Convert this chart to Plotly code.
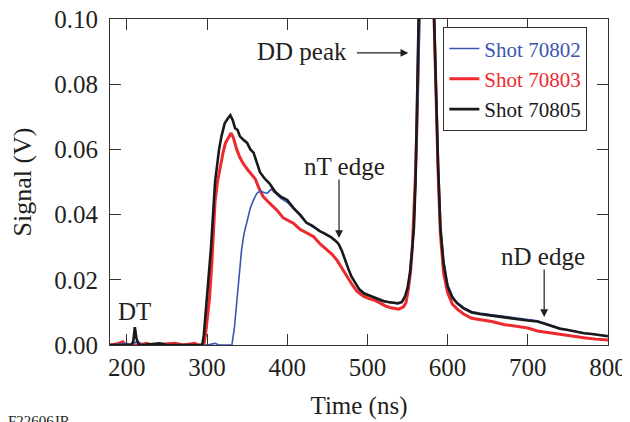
import plotly.graph_objects as go

# ---------------- data ----------------
t_70805 = [179, 195, 205, 208, 210, 212, 215, 220, 240, 250, 280, 294, 296, 300, 305, 310, 315, 318, 322, 326,
           329, 332, 335, 338, 341, 345, 350, 354, 358, 362, 366, 372, 378, 385, 392, 400, 408, 416, 424, 432,
           440, 448, 455, 460, 464, 468, 472, 476, 480, 485, 490, 496, 502, 508, 514, 520, 526, 532, 538, 543,
           547, 550, 553, 556, 558, 560, 562, 564, 566, 569, 573, 577, 581, 583, 585, 588, 591, 595, 600, 606,
           612, 620, 630, 640, 655, 670, 685, 700, 712, 720, 730, 740, 750, 760, 770, 780, 790, 800]
v_70805 = [0, 0, 0, 0.001, 0.0055, 0.002, 0, 0, 0.0005, 0, 0, 0, 0.003, 0.014, 0.030, 0.050, 0.060, 0.064, 0.068, 0.0695,
           0.0705, 0.069, 0.0665, 0.066, 0.064, 0.063, 0.062, 0.060, 0.059, 0.056, 0.053, 0.051, 0.0495, 0.047, 0.0455, 0.0445, 0.042, 0.040, 0.0375, 0.0365,
           0.035, 0.034, 0.033, 0.032, 0.031, 0.029, 0.026, 0.0235, 0.021, 0.019, 0.017, 0.0158, 0.0152, 0.0148, 0.014, 0.0135, 0.0132, 0.013, 0.0128, 0.0132,
           0.015, 0.0175, 0.022, 0.030, 0.036, 0.050, 0.066, 0.085, 0.11, 0.17, 0.22, 0.19, 0.12, 0.10, 0.078, 0.056, 0.036, 0.025, 0.018, 0.0145,
           0.0128, 0.0112, 0.0100, 0.0095, 0.009, 0.0086, 0.0080, 0.0075, 0.0072, 0.0066, 0.0058, 0.0050, 0.0046, 0.0040, 0.0036, 0.0034, 0.0030, 0.0027]

t_70803 = [179, 190, 195, 198, 215, 225, 230, 260, 270, 285, 288, 296, 298, 303, 306, 310, 313, 316, 320, 323,
           327, 330, 333, 337, 341, 345, 350, 355, 360, 365, 370, 378, 387, 395, 402, 408, 416, 424, 433, 441,
           450, 456, 462, 468, 475, 481, 487, 495, 502, 508, 515, 522, 528, 533, 539, 545, 548, 551, 554, 556,
           558, 560, 562, 564, 566, 569, 573, 577, 581, 583, 585, 588, 591, 595, 600, 606, 612, 620, 630, 640,
           655, 670, 685, 700, 712, 720, 730, 740, 754, 770, 785, 800]
v_70803 = [0, 0.0005, 0.001, 0, 0, 0.0005, 0, 0.0005, 0, 0.0005, 0, 0, 0.003, 0.014, 0.025, 0.044, 0.050, 0.054, 0.059, 0.062,
           0.064, 0.065, 0.0635, 0.060, 0.0575, 0.0557, 0.054, 0.0525, 0.051, 0.048, 0.0455, 0.0435, 0.0414, 0.039, 0.038, 0.0373, 0.0355, 0.0343, 0.0332, 0.031,
           0.029, 0.0278, 0.026, 0.0235, 0.021, 0.0185, 0.0164, 0.015, 0.0142, 0.0138, 0.013, 0.012, 0.0115, 0.0112, 0.011, 0.0117, 0.013, 0.017, 0.023, 0.030,
           0.040, 0.053, 0.070, 0.090, 0.12, 0.17, 0.21, 0.18, 0.12, 0.10, 0.076, 0.054, 0.034, 0.022, 0.016, 0.0125, 0.011, 0.0095, 0.0082, 0.0078,
           0.0072, 0.0063, 0.0058, 0.0052, 0.0043, 0.0040, 0.0036, 0.0032, 0.0026, 0.0022, 0.0018, 0.0015]

t_70802 = [179, 200, 205, 212, 216, 220, 245, 250, 300, 310, 315, 331, 334, 337, 340, 343, 346, 350, 354, 358,
           362, 366, 370, 375, 380, 385, 392, 400, 408, 416, 424, 432, 440, 448, 455, 460, 464, 468, 472, 476,
           480, 485, 490, 496, 502, 508, 514, 520, 526, 532, 538, 543, 547, 550, 553, 556, 558, 560, 562, 564,
           566, 569, 573, 577, 581, 583, 585, 588, 591, 595, 600, 606, 612, 620, 630, 640, 655, 670, 685, 700,
           712, 720, 730, 740, 750, 760, 770, 780, 790, 800]
v_70802 = [0, 0.0005, 0, 0.001, 0.0008, 0, 0.0005, 0, 0, 0.0005, 0, 0, 0.005, 0.0138, 0.022, 0.029, 0.034, 0.0385, 0.042, 0.0445,
           0.0465, 0.0472, 0.0468, 0.0465, 0.0478, 0.0465, 0.045, 0.0438, 0.0418, 0.0398, 0.0375, 0.0362, 0.035, 0.0338, 0.033, 0.0322, 0.031, 0.029, 0.026, 0.0235,
           0.0212, 0.019, 0.0172, 0.016, 0.0152, 0.0146, 0.0138, 0.0133, 0.013, 0.0128, 0.0126, 0.013, 0.0148, 0.017, 0.021, 0.029, 0.036, 0.049, 0.065, 0.084,
           0.108, 0.17, 0.22, 0.19, 0.125, 0.103, 0.080, 0.057, 0.037, 0.026, 0.0185, 0.015, 0.013, 0.0115, 0.0103, 0.0098, 0.0093, 0.0088, 0.0082, 0.0077,
           0.0074, 0.0068, 0.006, 0.0052, 0.0047, 0.0041, 0.0037, 0.0034, 0.0031, 0.0028]

x_ticks = [200, 300, 400, 500, 600, 700, 800]
y_ticks = [0.00, 0.02, 0.04, 0.06, 0.08, 0.10]
y_tick_labels = ["0.00", "0.02", "0.04", "0.06", "0.08", "0.10"]

BLUE = "#3a56b0"
RED = "#ee2a2e"
BLACK = "#1a1a1a"
FONT = "Times New Roman, Liberation Serif, DejaVu Serif, serif"
TXT = "#231f20"

fig = go.Figure()
fig.add_trace(go.Scatter(x=t_70803, y=v_70803, mode="lines", line=dict(color=RED, width=3),
                         name=f"<span style='color:{RED}'>Shot 70803</span>", legendrank=2))
fig.add_trace(go.Scatter(x=t_70802, y=v_70802, mode="lines", line=dict(color=BLUE, width=1.6),
                         name=f"<span style='color:{BLUE}'>Shot 70802</span>", legendrank=1))
fig.add_trace(go.Scatter(x=t_70805, y=v_70805, mode="lines", line=dict(color=BLACK, width=2.6),
                         name=f"<span style='color:{BLACK}'>Shot 70805</span>", legendrank=3))

axis_common = dict(showline=True, linecolor="#333333", linewidth=1.2, mirror="ticks",
                   ticks="inside", ticklen=11, tickwidth=1.2, tickcolor="#333333",
                   showgrid=False, zeroline=False, automargin=False, ticklabeloverflow="allow",
                   tickfont=dict(family=FONT, size=25, color=TXT))

fig.update_xaxes(range=[179, 800], tickvals=x_ticks,
                 title=dict(text="Time (ns)", font=dict(family=FONT, size=25, color=TXT), standoff=16),
                 **axis_common)
fig.update_yaxes(range=[0, 0.1], tickvals=y_ticks, ticktext=y_tick_labels, ticklabelstandoff=6,
                 title=dict(text="Signal (V)", font=dict(family=FONT, size=26, color=TXT), standoff=24),
                 **axis_common)

ann_font = dict(family=FONT, size=25, color=TXT)
fig.add_annotation(x=210, y=0.0104, text="DT", showarrow=False, font=ann_font)
fig.add_annotation(x=551, y=0.0896, ax=485, ay=0.0896, axref="x", ayref="y", text="",
                   showarrow=True, arrowhead=2, arrowsize=1.3, arrowwidth=1.2, arrowcolor=TXT)
fig.add_annotation(x=418, y=0.0899, text="DD peak", showarrow=False, font=ann_font)
fig.add_annotation(x=464.6, y=0.0328, ax=464.6, ay=0.0512, axref="x", ayref="y", text="",
                   showarrow=True, arrowhead=2, arrowsize=1.3, arrowwidth=1.2, arrowcolor=TXT)
fig.add_annotation(x=471, y=0.0549, text="nT edge", showarrow=False, font=ann_font)
fig.add_annotation(x=720.4, y=0.0086, ax=720.4, ay=0.0236, axref="x", ayref="y", text="",
                   showarrow=True, arrowhead=2, arrowsize=1.3, arrowwidth=1.2, arrowcolor=TXT)
fig.add_annotation(x=719, y=0.0273, text="nD edge", showarrow=False, font=ann_font)
fig.add_annotation(x=0.0, y=0.0, xref="paper", yref="paper", text="F22606JR", showarrow=False,
                   xanchor="left", yanchor="top", xshift=-104, yshift=-66,
                   font=dict(family=FONT, size=15, color=TXT))

# the page body adds an 8 px offset, so the figure is 8 px smaller and shifted margins compensate
fig.update_layout(
    width=622, height=414,
    margin=dict(l=102, r=22, t=11, b=77, autoexpand=False),
    paper_bgcolor="white", plot_bgcolor="white",
    font=dict(family=FONT, color=TXT),
    legend=dict(x=0.669, y=0.975, xanchor="left", yanchor="top",
                bgcolor="white", bordercolor="#333333", borderwidth=1.2,
                font=dict(family=FONT, size=21), itemwidth=30, tracegroupgap=0),
)

fig.write_html("out.html")
